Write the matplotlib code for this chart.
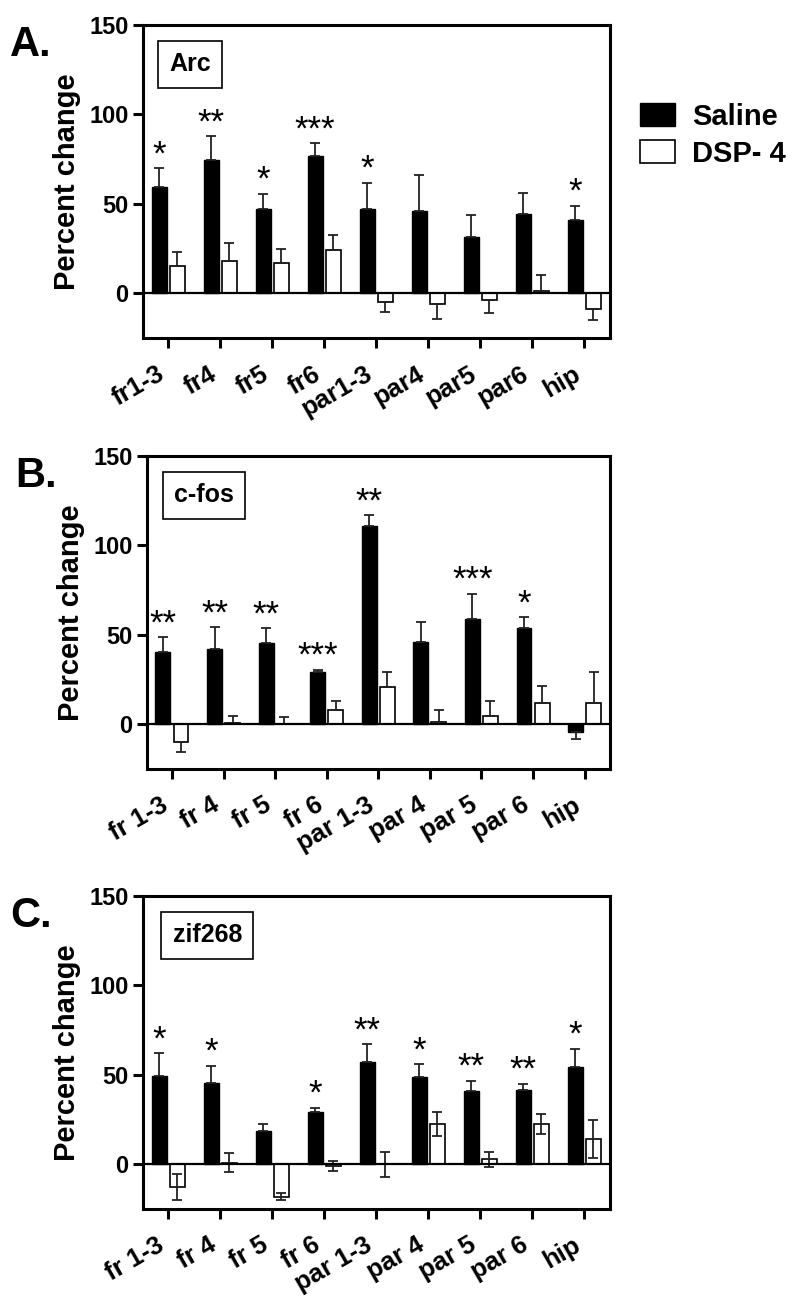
import matplotlib
matplotlib.use('Agg')
import matplotlib.pyplot as plt
import matplotlib.transforms as mtransforms
from matplotlib.patches import Patch
import numpy as np

plt.rcParams['font.family'] = ['Liberation Sans', 'DejaVu Sans']
plt.rcParams['font.weight'] = 'bold'

# region labels
labels_a = ['fr1-3', 'fr4', 'fr5', 'fr6', 'par1-3', 'par4', 'par5', 'par6', 'hip']
labels_bc = ['fr 1-3', 'fr 4', 'fr 5', 'fr 6', 'par 1-3', 'par 4', 'par 5', 'par 6', 'hip']

# A. Arc
arc_saline = [59.2, 74.7, 47.0, 77.0, 47.1, 46.0, 31.7, 44.2, 41.0]
arc_saline_sem = [10.7, 13.1, 8.5, 6.8, 14.6, 20.0, 11.9, 12.1, 8.0]
arc_dsp = [15.3, 17.9, 17.0, 24.0, -4.7, -5.8, -3.7, 1.5, -9.0]
arc_dsp_sem = [7.6, 10.0, 7.6, 8.8, 5.5, 8.4, 7.1, 8.7, 5.9]
arc_stars = ['*', '**', '*', '***', '*', '', '', '', '*']

# B. c-fos
fos_saline = [40.7, 42.0, 45.6, 29.3, 110.8, 46.1, 58.8, 53.6, -4.3]
fos_saline_sem = [7.9, 12.2, 8.0, 1.2, 6.0, 11.1, 14.2, 6.2, 4.1]
fos_dsp = [-9.7, 0.6, 0.3, 7.8, 20.7, 1.3, 4.7, 11.8, 12.1]
fos_dsp_sem = [5.8, 4.1, 3.6, 5.5, 8.6, 6.5, 8.2, 9.5, 17.0]
fos_stars = ['**', '**', '**', '***', '**', '', '***', '*', '']

# C. zif268
zif_saline = [49.6, 45.3, 18.8, 29.4, 57.4, 48.6, 41.0, 41.5, 54.6]
zif_saline_sem = [12.4, 9.9, 3.9, 2.3, 9.7, 7.3, 5.6, 3.6, 9.9]
zif_dsp = [-12.7, 1.0, -18.1, -0.8, 0.0, 22.4, 2.8, 22.7, 14.2]
zif_dsp_sem = [7.5, 5.4, 2.0, 2.7, 7.1, 6.6, 4.3, 5.5, 10.5]
zif_stars = ['*', '*', '', '*', '**', '*', '**', '**', '*']


def one_sided(mean, sem):
    # error bar only away from zero, as in the original
    mean = np.array(mean)
    sem = np.array(sem)
    lower = np.where(mean < 0, sem, 0)
    upper = np.where(mean >= 0, sem, 0)
    return [lower, upper]


def panel(ax, letter, gene, gene_x, labels, sal, sal_sem, dsp, dsp_sem, stars, dsp_two_sided=False):
    x = np.arange(len(labels))
    w = 0.29
    off = 0.175
    ekw = dict(elinewidth=1.3, capthick=1.3, ecolor='#222222')
    ax.bar(x - off, sal, w, color='black', edgecolor='black', linewidth=1.0,
           yerr=one_sided(sal, sal_sem), capsize=3.5, error_kw=ekw, zorder=2)
    if dsp_two_sided:
        derr = dsp_sem
    else:
        derr = one_sided(dsp, dsp_sem)
    ax.bar(x + off, dsp, w, color='white', edgecolor='black', linewidth=1.2,
           yerr=derr, capsize=3.5, error_kw=ekw, zorder=2)
    ax.axhline(0, color='black', linewidth=1.6, zorder=3)

    for i, s in enumerate(stars):
        if s:
            top = sal[i] + sal_sem[i]
            ax.text(x[i] - off, top + 7.5, s, ha='center', va='center',
                    fontsize=25, fontweight='normal')

    ax.set_xlim(-0.48, 8.5)
    ax.set_ylim(-25, 150)
    ax.set_yticks([0, 50, 100, 150])
    ax.set_xticks(x)
    ax.set_xticklabels(labels, rotation=30, ha='right', fontsize=18.5, fontweight='bold')
    shift = mtransforms.ScaledTranslation(6 / 100, 0, ax.figure.dpi_scale_trans)
    for lab in ax.get_xticklabels():
        lab.set_transform(lab.get_transform() + shift)
    ax.tick_params(axis='both', width=2.2, length=7, labelsize=17)
    ax.tick_params(axis='x', pad=10, labelsize=18.5)
    for lab in ax.get_yticklabels():
        lab.set_fontweight('bold')
    for sp in ax.spines.values():
        sp.set_linewidth(2.2)
    ax.set_ylabel('Percent change', fontsize=21, fontweight='bold', labelpad=6)

    ax.text(gene_x, 0.874, gene, transform=ax.transAxes, ha='center', va='center',
            fontsize=18, fontweight='bold',
            bbox=dict(boxstyle='square,pad=0.45', fc='white', ec='black', lw=1.2))
    ax.text(-0.285, 1.0, letter, transform=ax.transAxes, ha='left', va='top',
            fontsize=30, fontweight='bold')


fig = plt.figure(figsize=(8, 13.01), dpi=100)
ax1 = fig.add_axes([0.179, 0.7402, 0.584, 0.2406])
ax2 = fig.add_axes([0.184, 0.4089, 0.579, 0.2406])
ax3 = fig.add_axes([0.179, 0.0707, 0.584, 0.2406])

panel(ax1, 'A.', 'Arc', 0.0996, labels_a, arc_saline, arc_saline_sem, arc_dsp, arc_dsp_sem, arc_stars)
panel(ax2, 'B.', 'c-fos', 0.122, labels_bc, fos_saline, fos_saline_sem, fos_dsp, fos_dsp_sem, fos_stars)
panel(ax3, 'C.', 'zif268', 0.137, labels_bc, zif_saline, zif_saline_sem, zif_dsp, zif_dsp_sem, zif_stars,
      dsp_two_sided=True)

handles = [Patch(facecolor='black', edgecolor='black'), Patch(facecolor='white', edgecolor='black', linewidth=1.2)]
fig.legend(handles, ['Saline', 'DSP- 4'], loc='upper left', bbox_to_anchor=(0.8, 0.921),
           frameon=False, prop=dict(size=21, weight='bold'), handlelength=1.2, handleheight=0.8,
           handletextpad=0.6, labelspacing=0.3, borderpad=0, borderaxespad=0)

fig.savefig('out.png', dpi=100)
